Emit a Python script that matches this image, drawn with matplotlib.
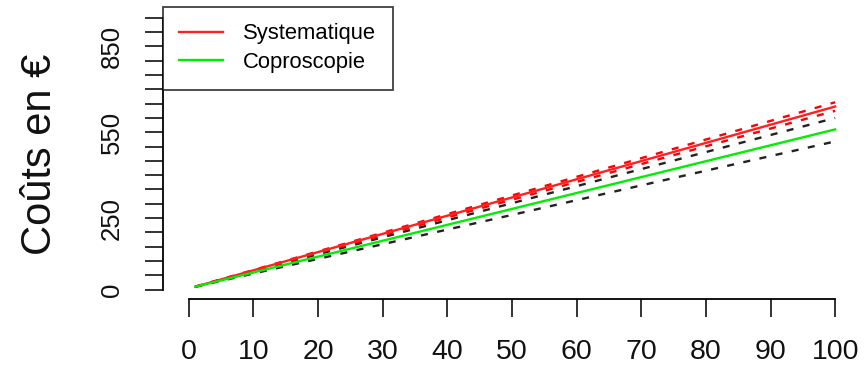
import matplotlib
matplotlib.use("Agg")
import matplotlib.pyplot as plt

# Values (lines are straight, so a few points each)
x_pts = [1, 25, 50, 75, 100]
systematique = [10, 163, 322, 481, 640]
syst_upper = [10, 166, 329, 492, 655]
syst_lower = [10, 159, 314, 470, 625]
copro = [10, 143, 282, 421, 560]
copro_upper = [10, 153, 302, 451, 600]
copro_lower = [10, 133, 261, 390, 518]

y_ticks = list(range(0, 951, 50))
y_labels = ['0', '250', '550', '850']
x_ticks = list(range(0, 101, 10))

plt.rcParams['font.family'] = ['Liberation Sans', 'DejaVu Sans']

fig = plt.figure(figsize=(8.66, 3.67), dpi=100)
ax = fig.add_axes([163 / 866, 1 - 299 / 367, 698 / 866, 292 / 367])

dash = (0, (3.0, 4.0))
ax.plot(x_pts, copro_upper, color='#222222', lw=1.7, linestyle=dash)
ax.plot(x_pts, copro_lower, color='#222222', lw=1.7, linestyle=dash)
ax.plot(x_pts, syst_upper, color='red', lw=1.7, linestyle=dash)
ax.plot(x_pts, syst_lower, color='red', lw=1.7, linestyle=dash)
l1, = ax.plot(x_pts, systematique, color='#ff2020', lw=1.7)
l2, = ax.plot(x_pts, copro, color='#00ee00', lw=1.7)

ax.set_xlim(-4, 104)
ax.set_ylim(-33, 988)

for s in ['top', 'right']:
    ax.spines[s].set_visible(False)
ax.spines['left'].set_bounds(0, 950)
ax.spines['bottom'].set_bounds(0, 100)
ax.spines['left'].set_linewidth(1.3)
ax.spines['bottom'].set_linewidth(1.3)

ax.set_yticks(y_ticks)
ax.set_yticklabels([str(v) if str(v) in y_labels else '' for v in y_ticks],
                   rotation=90, va='center', fontsize=18.5)
ax.set_xticks(x_ticks)
ax.set_xticklabels([str(v) for v in x_ticks], fontsize=20.5)
ax.tick_params(axis='y', length=13, width=1.2, pad=15, colors='#111111')
ax.tick_params(axis='x', length=13, width=1.2, pad=16, colors='#111111')

fig.text(40 / 866, 1 - 154 / 367, 'Coûts en €', rotation=90,
         ha='center', va='center', fontsize=30, color='#111111')

leg = ax.legend([l1, l2], ['Systematique', 'Coproscopie'], loc='upper left',
                bbox_to_anchor=(0, 1), borderaxespad=0, fancybox=False,
                fontsize=15.8, handlelength=2.0, handletextpad=0.9,
                borderpad=0.75, labelspacing=0.35)
leg.get_frame().set_edgecolor('#111111')
leg.get_frame().set_linewidth(1.3)

fig.savefig('out.png', dpi=100)
